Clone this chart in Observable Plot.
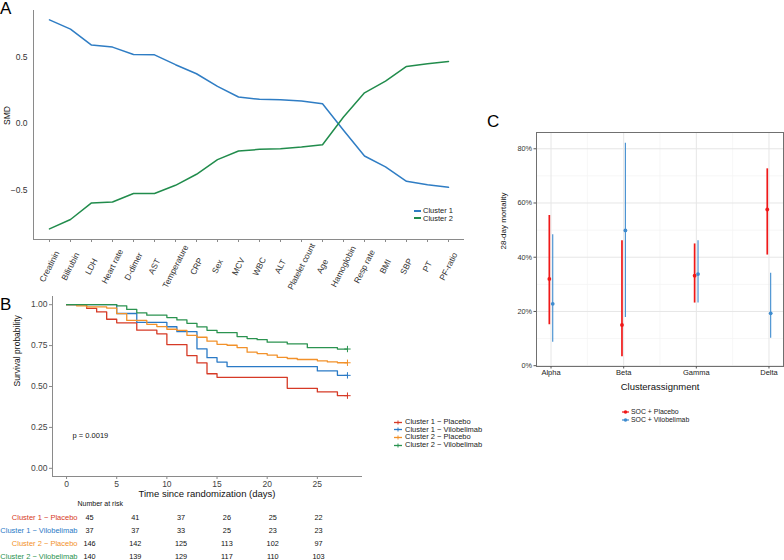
<!DOCTYPE html>
<html><head><meta charset="utf-8">
<script src="https://cdn.jsdelivr.net/npm/d3@7"></script>
<script src="https://cdn.jsdelivr.net/npm/@observablehq/plot@0.6"></script>
<style>
body{margin:0;background:#fff;}
#root{position:relative;width:784px;height:560px;overflow:hidden;font-family:"Liberation Sans",Arial,sans-serif;color:#000;background:#fff;}
.abs{position:absolute;}
.abs svg{display:block;max-width:none;}
.panel-label{position:absolute;font-size:17px;line-height:17px;}
.legend-row{position:absolute;display:flex;align-items:center;white-space:nowrap;color:#222;}
</style></head><body><div id="root"></div>
<script>
// ---------- Panel A data ----------
const smdVariables = ["Creatinin","Bilirubin","LDH","Heart rate","D-dimer","AST","Temperature","CRP","Sex","MCV","WBC","ALT","Platelet count","Age","Hamoglobin","Resp rate","BMI","SBP","PT","PF-ratio"];
const smdCluster1 = [0.78,0.71,0.59,0.575,0.52,0.517,0.443,0.375,0.28,0.20,0.183,0.18,0.17,0.15,-0.05,-0.243,-0.325,-0.433,-0.458,-0.478];
const smdCluster2 = [-0.79,-0.72,-0.595,-0.588,-0.525,-0.525,-0.463,-0.38,-0.27,-0.205,-0.193,-0.188,-0.175,-0.158,0.05,0.232,0.32,0.43,0.45,0.467];
const smdClusters = ["Cluster 1","Cluster 2"];
const smdColors = ["#2f7dc4","#218c4c"];
const smdTicks = [-0.5,0,0.5];

// ---------- Panel B data ----------
const kmGroups = ["Cluster 1 \u2212 Placebo","Cluster 1 \u2212 Vilobelimab","Cluster 2 \u2212 Placebo","Cluster 2 \u2212 Vilobelimab"];
const kmColors = ["#d63a26","#2a7ac6","#f2912a","#2b9350"];
const kmC1PlaceboDays = [0,2,3,4,5,7,9,10,12,13,14,15,22,25,27,28];
const kmC1PlaceboSurv = [1,0.978,0.956,0.911,0.889,0.844,0.822,0.756,0.689,0.644,0.578,0.556,0.489,0.467,0.444,0.444];
const kmC1ViloDays = [0,5,7,10,11,13,14,15,16,25,27,28];
const kmC1ViloSurv = [1,0.946,0.892,0.865,0.835,0.730,0.676,0.649,0.622,0.595,0.568,0.568];
const kmC2PlaceboDays = [0,1,2,4,5,6,8,9,10,11,12,13,14,15,16,17,18,19,20,21,22,23,25,26,27,28];
const kmC2PlaceboSurv = [1,0.993,0.986,0.979,0.945,0.904,0.880,0.866,0.850,0.843,0.813,0.801,0.777,0.758,0.752,0.738,0.710,0.701,0.692,0.678,0.671,0.665,0.657,0.650,0.645,0.645];
const kmC2ViloDays = [0,5,6,7,8,10,11,12,13,14,15,17,18,19,20,22,24,27,28];
const kmC2ViloSurv = [1,0.993,0.971,0.950,0.936,0.921,0.907,0.886,0.864,0.843,0.829,0.805,0.793,0.786,0.771,0.760,0.737,0.729,0.729];
const kmXTicks = [0,5,10,15,20,25];
const kmYTicks = [0,0.25,0.5,0.75,1];
const pValueText = ["p = 0.0019"];
const riskDays = [0,5,10,15,20,25];
const riskC1Placebo = [45,41,37,26,25,22];
const riskC1Vilo = [37,37,33,25,23,23];
const riskC2Placebo = [146,142,125,113,102,97];
const riskC2Vilo = [140,139,129,117,110,103];

// ---------- Panel C data ----------
const mortalityClusters = ["Alpha","Beta","Gamma","Delta"];
const mortalityArms = ["SOC + Placebo","SOC + Vilobelimab"];
const mortalityColors = ["#f01818","#3f8ccf"];
const placeboMortality = [0.320,0.150,0.332,0.576];
const placeboLower = [0.151,0.033,0.231,0.408];
const placeboUpper = [0.554,0.461,0.449,0.726];
const viloMortality = [0.228,0.499,0.338,0.193];
const viloLower = [0.086,0.178,0.231,0.101];
const viloUpper = [0.483,0.820,0.461,0.341];
const mortalityTicks = [0,0.2,0.4,0.6,0.8];
const mortalityMinorTicks = [0.1,0.3,0.5,0.7];

const FONT = '"Liberation Sans",Arial,sans-serif';
const root = document.getElementById("root");
function place(el, left, top){
  const w = document.createElement("div");
  w.className = "abs"; w.style.left = left+"px"; w.style.top = top+"px";
  w.appendChild(el); root.appendChild(w); return w;
}
function label(text, left, top){
  const d = document.createElement("div");
  d.className = "panel-label"; d.textContent = text;
  d.style.left = left+"px"; d.style.top = top+"px";
  root.appendChild(d);
}
function legendRow(left, top, h, fs, swatch, text){
  const row = document.createElement("div");
  row.className = "legend-row";
  row.style.left = left+"px"; row.style.top = top+"px"; row.style.height = h+"px";
  row.style.fontSize = fs+"px"; row.style.lineHeight = h+"px";
  row.innerHTML = swatch;
  const t = document.createElement("span"); t.textContent = text; t.style.lineHeight = h+"px";
  row.appendChild(t);
  root.appendChild(row);
}
const baseStyle = {fontFamily: FONT, background: "none", color: "#333", overflow: "visible"};

// ---------- Panel A ----------
const smdRows = smdVariables.flatMap((v,i)=>[
  {variable:v, cluster:smdClusters[0], smd:smdCluster1[i]},
  {variable:v, cluster:smdClusters[1], smd:smdCluster2[i]}
]);
const plotA = Plot.plot({
  width: 480, height: 300, marginLeft: 33, marginRight: 17, marginTop: 10, marginBottom: 61,
  style: {...baseStyle, fontSize: "8px"},
  x: {type: "point", domain: smdVariables, padding: 0.56, label: null, axis: null},
  y: {domain: [-0.87, 0.85], label: null, axis: null},
  color: {domain: smdClusters, range: smdColors},
  marks: [
    Plot.frame({anchor: "left", stroke: "#8a8a8a"}),
    Plot.frame({anchor: "bottom", stroke: "#8a8a8a"}),
    Plot.axisY({ticks: smdTicks, tickFormat: d3.format(".1f"), tickSize: 0, tickPadding: 6, fontSize: 8.5, fill: "#333"}),
    Plot.axisX({tickSize: 3, stroke: "#8a8a8a", tickFormat: () => "", label: null}),
    Plot.text(smdVariables, {x: d => d, frameAnchor: "bottom", rotate: -63, dy: 27, textAnchor: "middle", lineAnchor: "middle", fontSize: 8.4, fill: "#333"}),
    Plot.text(["SMD"], {frameAnchor: "left", rotate: -90, dx: -26, fontSize: 8.5, fill: "#111"}),
    Plot.line(smdRows, {x: "variable", y: "smd", z: "cluster", stroke: "cluster", strokeWidth: 1.5})
  ]
});
place(plotA, 0, 0);
label("A", 0, 0);
smdClusters.forEach((c,i)=>{
  legendRow(414, 207 + i*7.6, 7.6, 7.5,
    `<svg width="7" height="6" style="margin-right:2px"><line x1="0" x2="7" y1="3" y2="3" stroke="${smdColors[i]}" stroke-width="2"/></svg>`, c);
});

// ---------- Panel B ----------
const kmSeries = [
  {group: kmGroups[0], days: kmC1PlaceboDays, surv: kmC1PlaceboSurv},
  {group: kmGroups[1], days: kmC1ViloDays, surv: kmC1ViloSurv},
  {group: kmGroups[2], days: kmC2PlaceboDays, surv: kmC2PlaceboSurv},
  {group: kmGroups[3], days: kmC2ViloDays, surv: kmC2ViloSurv}
];
const kmRows = kmSeries.flatMap(s => s.days.map((t,i)=>({group: s.group, t, s: s.surv[i]})));
const kmEnds = kmSeries.map(s => ({group: s.group, t: s.days[s.days.length-1], s: s.surv[s.surv.length-1]}));
const plotB = Plot.plot({
  width: 370, height: 210, marginLeft: 52, marginRight: 9, marginTop: 6, marginBottom: 24,
  style: {...baseStyle, fontSize: "8.5px"},
  x: {domain: [-1.4, 29.4], label: null, axis: null},
  y: {domain: [-0.05, 1.05], label: null, axis: null},
  color: {domain: kmGroups, range: kmColors},
  marks: [
    Plot.frame({anchor: "left", stroke: "#8a8a8a"}),
    Plot.frame({anchor: "bottom", stroke: "#8a8a8a"}),
    Plot.axisY({ticks: kmYTicks, tickFormat: d3.format(".2f"), tickSize: 3, tickPadding: 2, stroke: "#8a8a8a", fill: "#444", fontSize: 8.5}),
    Plot.axisX({ticks: kmXTicks, tickSize: 3, tickPadding: 1, stroke: "#8a8a8a", fill: "#444", fontSize: 8.5, label: null}),
    Plot.text(["Time since randomization (days)"], {frameAnchor: "bottom", lineAnchor: "middle", dy: 17, fontSize: 9.5, fill: "#111"}),
    Plot.text(["Survival probability"], {frameAnchor: "left", rotate: -90, dx: -35, fontSize: 8.5, fill: "#111"}),
    Plot.line(kmRows, {x: "t", y: "s", z: "group", stroke: "group", curve: "step-after", strokeWidth: 1.3}),
    Plot.dot(kmEnds, {x: "t", y: "s", stroke: "group", symbol: "plus", r: 2.2, strokeWidth: 1}),
    Plot.text(pValueText, {x: 0.6, y: 0.2, textAnchor: "start", fontSize: 7.5, fill: "#111"})
  ]
});
place(plotB, 0, 290);
label("B", 0, 296);

// risk table
const riskSeries = [riskC1Placebo, riskC1Vilo, riskC2Placebo, riskC2Vilo];
const riskRows = riskSeries.flatMap((arr,g)=>arr.map((n,i)=>({group: kmGroups[g], t: riskDays[i], n})));
const plotRisk = Plot.plot({
  width: 370, height: 65, marginLeft: 80, marginRight: 10, marginTop: 8, marginBottom: 2,
  style: {...baseStyle, fontSize: "7px"},
  x: {domain: [0, 25], range: [89, 318], axis: null},
  y: {type: "point", domain: kmGroups, range: [22.3, 61.3], padding: 0, axis: null},
  color: {domain: kmGroups, range: kmColors},
  marks: [
    Plot.text(["Number at risk"], {frameAnchor: "top-left", textAnchor: "start", lineAnchor: "middle", dx: -3, fontSize: 7, fill: "#111"}),
    Plot.text(kmGroups, {y: d => d, frameAnchor: "left", textAnchor: "end", dx: -3, fill: d => d, fontSize: 7.5}),
    Plot.text(riskRows, {x: "t", y: "group", text: "n", fontSize: 7.3, fill: "#111"})
  ]
});
place(plotRisk, 0, 495);

kmGroups.forEach((g,i)=>{
  legendRow(394, 417.8 + i*7.75, 7.75, 7.5,
    `<svg width="9" height="6" style="margin-right:2px"><line x1="0" x2="8" y1="3.5" y2="3.5" stroke="${kmColors[i]}" stroke-width="1.3"/><line x1="4" x2="4" y1="1.5" y2="5.5" stroke="${kmColors[i]}" stroke-width="1"/></svg>`, g);
});

// ---------- Panel C ----------
const clusterIdx = mortalityClusters.map((c,i)=>i);
const minorX = clusterIdx.slice(0,-1).map(i=>i+0.5);
const placeboRows = mortalityClusters.map((c,i)=>({i, p: placeboMortality[i], lo: placeboLower[i], hi: placeboUpper[i]}));
const viloRows = mortalityClusters.map((c,i)=>({i, p: viloMortality[i], lo: viloLower[i], hi: viloUpper[i]}));
const plotC = Plot.plot({
  width: 294, height: 280, marginLeft: 46, marginRight: 1, marginTop: 12, marginBottom: 34,
  style: {...baseStyle, fontSize: "7.5px"},
  x: {domain: [-0.2, 3.2], label: null, axis: null},
  y: {domain: [-0.003, 0.86], label: null, axis: null},
  marks: [
    Plot.ruleY(mortalityMinorTicks, {stroke: "#f2f2f2", strokeWidth: 0.7}),
    Plot.ruleX(minorX, {stroke: "#f2f2f2", strokeWidth: 0.7}),
    Plot.ruleY(mortalityTicks, {stroke: "#e6e6e6", strokeWidth: 1}),
    Plot.ruleX(clusterIdx, {stroke: "#e6e6e6", strokeWidth: 1}),
    Plot.frame({stroke: "#707070"}),
    Plot.axisY({ticks: mortalityTicks, tickFormat: d3.format(".0%"), tickSize: 2.5, tickPadding: 2, stroke: "#555", fill: "#333", fontSize: 7.3}),
    Plot.axisX({ticks: clusterIdx, tickFormat: i => mortalityClusters[i], tickSize: 2.5, tickPadding: 1, stroke: "#555", fill: "#222", fontSize: 7.5, label: null}),
    Plot.text(["Clusterassignment"], {frameAnchor: "bottom", lineAnchor: "middle", dy: 20, fontSize: 9.5, fill: "#111"}),
    Plot.text(["28-day mortality"], {frameAnchor: "left", rotate: -90, dx: -33, fontSize: 8, fill: "#111"}),
    Plot.ruleX(placeboRows, {x: "i", y1: "lo", y2: "hi", stroke: mortalityColors[0], strokeWidth: 1.7, dx: -1.7}),
    Plot.dot(placeboRows, {x: "i", y: "p", fill: mortalityColors[0], r: 1.9, dx: -1.7}),
    Plot.ruleX(viloRows, {x: "i", y1: "lo", y2: "hi", stroke: mortalityColors[1], strokeWidth: 1.1, dx: 1.7}),
    Plot.dot(viloRows, {x: "i", y: "p", fill: mortalityColors[1], r: 1.9, dx: 1.7})
  ]
});
place(plotC, 490, 120);
label("C", 487, 113);

mortalityArms.forEach((a,i)=>{
  legendRow(621, 408.1 + i*7.8, 7.8, 6.9,
    `<svg width="9" height="6" style="margin-right:1px"><line x1="1" x2="8" y1="3" y2="3" stroke="${mortalityColors[i]}" stroke-width="1.2"/><circle cx="4.5" cy="3" r="1.8" fill="${mortalityColors[i]}"/></svg>`, a);
});
</script></body></html>
